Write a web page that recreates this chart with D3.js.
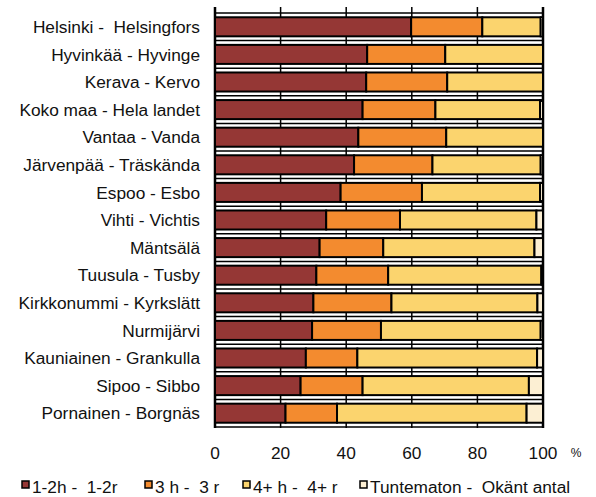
<!DOCTYPE html>
<head>
  <meta charset="utf-8">
  <script src="https://cdn.jsdelivr.net/npm/d3@7"></script>
  <style>
    body { margin: 0; background: #fff; }
    text { font-family: "Liberation Sans", Arial, sans-serif; fill: #111; white-space: pre; }
  </style>
</head>
<body>
<script>
  // categories, top to bottom
  var kunnat = [
    "Helsinki -  Helsingfors", "Hyvinkää - Hyvinge", "Kerava - Kervo",
    "Koko maa - Hela landet", "Vantaa - Vanda", "Järvenpää - Träskända",
    "Espoo - Esbo", "Vihti - Vichtis", "Mäntsälä", "Tuusula - Tusby",
    "Kirkkonummi - Kyrkslätt", "Nurmijärvi", "Kauniainen - Grankulla",
    "Sipoo - Sibbo", "Pornainen - Borgnäs"
  ];
  // shares in %
  var h12 = [59.8, 46.4, 46.1, 45.0, 43.7, 42.4, 38.3, 33.9, 31.9, 30.9, 30.0, 29.6, 27.7, 26.1, 21.5];
  var h3  = [21.7, 23.8, 24.7, 22.2, 26.8, 23.9, 24.8, 22.5, 19.4, 21.9, 23.8, 21.0, 15.7, 18.9, 15.7];
  var h4  = [17.8, 29.8, 29.2, 31.9, 29.5, 33.0, 36.0, 41.6, 46.1, 46.7, 44.5, 48.7, 54.8, 50.7, 57.8];
  var tuntematon = [0.7, 0.0, 0.0, 0.9, 0.0, 0.7, 0.9, 2.0, 2.6, 0.5, 1.7, 0.7, 1.8, 4.3, 5.0];
  var sarjat = ["1-2h -  1-2r", "3 h -  3 r", "4+ h -  4+ r", "Tuntematon -  Okänt antal"];
  var ticks = [0, 20, 40, 60, 80, 100];

  var colors = ["#953735", "#f38b2f", "#fbd46e", "#fcefd3"];
  var width = 596, height = 497;
  var fs = 17.3;

  var svg = d3.select("body").append("svg")
      .attr("width", width)
      .attr("height", height);

  var x = d3.scaleLinear().domain([0, 100]).range([215, 543]);
  var y = d3.scaleBand().domain(kunnat).range([13, 427])
      .paddingInner(0.31).paddingOuter(0.155);

  var rows = kunnat.map(function(k, i) {
    return { kunta: k, vals: [h12[i], h3[i], h4[i], tuntematon[i]] };
  });

  // horizontal lines at band edges
  svg.append("g").selectAll("line")
    .data(d3.range(kunnat.length + 1))
    .enter().append("line")
      .attr("x1", x(0)).attr("x2", x(100))
      .attr("y1", function(i) { return y.range()[0] + i * y.step(); })
      .attr("y2", function(i) { return y.range()[0] + i * y.step(); })
      .attr("stroke", "#000").attr("stroke-width", 1.5);

  // vertical grid
  svg.append("g").selectAll("line")
    .data(ticks)
    .enter().append("line")
      .attr("x1", function(d) { return x(d); })
      .attr("x2", function(d) { return x(d); })
      .attr("y1", 7).attr("y2", 428)
      .attr("stroke", "#000")
      .attr("stroke-width", function(d) { return d === 0 || d === 100 ? 2.5 : 1.5; });

  // stacked bars
  var g = svg.append("g").selectAll("g")
    .data(rows)
    .enter().append("g");

  g.selectAll("rect")
    .data(function(r) {
      var acc = 0;
      return r.vals.map(function(v, j) {
        var s = { kunta: r.kunta, x0: acc, x1: acc + v, j: j };
        acc += v;
        return s;
      }).filter(function(s) { return s.x1 - s.x0 > 0; });
    })
    .enter().append("rect")
      .attr("x", function(s) { return x(s.x0); })
      .attr("width", function(s) { return x(s.x1) - x(s.x0); })
      .attr("y", function(s) { return y(s.kunta); })
      .attr("height", y.bandwidth())
      .attr("fill", function(s) { return colors[s.j]; })
      .attr("stroke", "#000")
      .attr("stroke-width", 2);

  // category labels
  svg.append("g").selectAll("text")
    .data(kunnat)
    .enter().append("text")
      .attr("x", 200)
      .attr("y", function(d) { return y(d) + y.bandwidth() / 2; })
      .attr("dy", "0.36em")
      .attr("text-anchor", "end")
      .attr("font-size", fs)
      .text(function(d) { return d; });

  // x tick labels
  svg.append("g").selectAll("text")
    .data(ticks)
    .enter().append("text")
      .attr("x", function(d) { return x(d); })
      .attr("y", 459)
      .attr("text-anchor", "middle")
      .attr("font-size", fs)
      .text(function(d) { return d; });

  svg.append("text")
    .attr("x", 576).attr("y", 457)
    .attr("text-anchor", "middle")
    .attr("font-size", 12)
    .text("%");

  // legend
  var legX = [22, 145, 243, 360];
  var leg = svg.append("g").selectAll("g")
    .data(sarjat)
    .enter().append("g")
      .attr("transform", function(d, i) { return "translate(" + legX[i] + ",481)"; });

  leg.append("rect")
    .attr("width", 7).attr("height", 7)
    .attr("fill", function(d, i) { return colors[i]; })
    .attr("stroke", "#000").attr("stroke-width", 1.5);

  leg.append("text")
    .attr("x", 10).attr("y", 11.5)
    .attr("font-size", fs)
    .text(function(d) { return d; });
</script>
</body>
